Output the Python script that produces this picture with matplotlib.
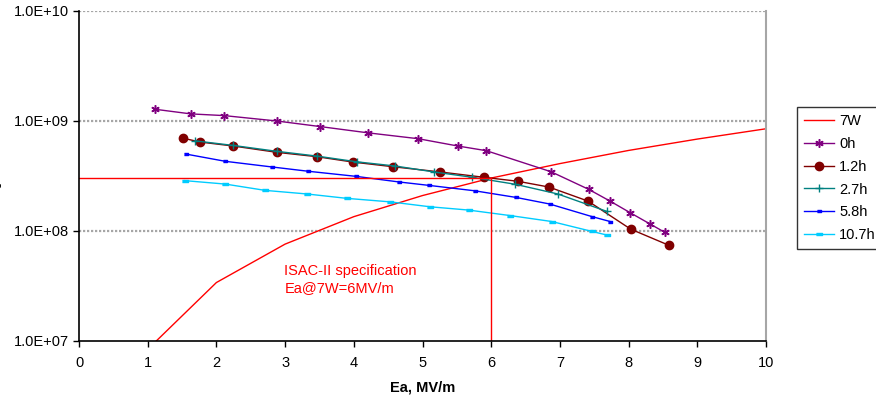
import math

import matplotlib
matplotlib.use("Agg")
import matplotlib.pyplot as plt
from matplotlib.ticker import FixedLocator, FuncFormatter, NullLocator

plt.rcParams["font.family"] = ["Liberation Sans", "DejaVu Sans"]

# 7W power curve
ea_7w = [1, 2, 3, 4, 5, 6, 7, 8, 9, 10]
q_7w = [8.4e6, 3.4e7, 7.6e7, 1.35e8, 2.1e8, 3.03e8, 4.1e8, 5.4e8, 6.85e8, 8.5e8]

# Q0 vs Ea after different conditioning times
ea_0h = [1.10, 1.63, 2.11, 2.88, 3.51, 4.21, 4.94, 5.51, 5.93, 6.87, 7.42, 7.73, 8.02, 8.31, 8.53]
q_0h = [1.28e9, 1.16e9, 1.12e9, 1.0e9, 8.9e8, 7.8e8, 6.9e8, 5.93e8, 5.37e8, 3.46e8,
        2.39e8, 1.87e8, 1.47e8, 1.16e8, 9.7e7]

ea_1p2h = [1.52, 1.76, 2.24, 2.88, 3.46, 3.99, 4.57, 5.26, 5.89, 6.39, 6.84, 7.41, 8.03, 8.59]
q_1p2h = [6.97e8, 6.44e8, 5.93e8, 5.19e8, 4.74e8, 4.23e8, 3.84e8, 3.44e8, 3.08e8, 2.83e8,
          2.51e8, 1.87e8, 1.04e8, 7.4e7]

ea_2p7h = [1.69, 2.24, 2.88, 3.46, 4.05, 4.60, 5.17, 5.72, 6.35, 6.97, 7.68]
q_2p7h = [6.6e8, 6.0e8, 5.3e8, 4.8e8, 4.25e8, 3.9e8, 3.44e8, 3.08e8, 2.66e8, 2.17e8, 1.51e8]

ea_5p8h = [1.56, 2.13, 2.81, 3.34, 4.03, 4.66, 5.09, 5.76, 6.36, 6.85, 7.47, 7.73]
q_5p8h = [5.0e8, 4.3e8, 3.82e8, 3.49e8, 3.14e8, 2.79e8, 2.6e8, 2.32e8, 2.02e8, 1.76e8,
          1.35e8, 1.22e8]

ea_10p7h = [1.54, 2.13, 2.71, 3.32, 3.90, 4.53, 5.11, 5.67, 6.28, 6.88, 7.47, 7.68]
q_10p7h = [2.87e8, 2.67e8, 2.34e8, 2.17e8, 1.98e8, 1.84e8, 1.66e8, 1.55e8, 1.38e8, 1.22e8,
           9.9e7, 9.2e7]

# spec point: Ea = 6 MV/m at 7 W
spec_ea = 6.0
spec_q = 3.03e8

dash_short = [(-1, -0.55), (1, -0.55), (1, 0.55), (-1, 0.55)]
dash_long = [(-1.6, -0.45), (1.6, -0.45), (1.6, 0.45), (-1.6, 0.45)]

FS = 10.5

fig = plt.figure(figsize=(8.76, 4.04), dpi=100)
ax = fig.add_axes([79 / 876, 1 - 341 / 404, 687 / 876, 330 / 404])

ax.plot(ea_7w, q_7w, color="#ff0000", lw=1.0, label="7W")
ax.plot(ea_0h, q_0h, color="#800080", lw=1.0, marker=(6, 2, 0), ms=6, mew=1.1, label="0h")
ax.plot(ea_1p2h, q_1p2h, color="#800000", lw=1.0, marker="o", ms=6, label="1.2h")
ax.plot(ea_2p7h, q_2p7h, color="#008080", lw=1.0, marker="+", ms=5.5, mew=1.0, label="2.7h")
ax.plot(ea_5p8h, q_5p8h, color="#0000ff", lw=1.0, marker=dash_short, ms=3.2, label="5.8h")
ax.plot(ea_10p7h, q_10p7h, color="#00ccff", lw=1.0, marker=dash_long, ms=4.2, label="10.7h")

# spec cross-hair
ax.plot([0, spec_ea], [spec_q, spec_q], color="#ff0000", lw=1.0)
ax.plot([spec_ea, spec_ea], [1e7, spec_q], color="#ff0000", lw=1.0)
ax.text(2.99, 5.0e7, "ISAC-II specification\nEa@7W=6MV/m", color="#ff0000",
        fontsize=FS, va="top", ha="left", linespacing=1.3)

ax.set_yscale("log")
ax.set_xlim(0, 10)
ax.set_ylim(1e7, 1e10)
ax.xaxis.set_major_locator(FixedLocator(range(0, 11)))
ax.yaxis.set_major_locator(FixedLocator([1e7, 1e8, 1e9, 1e10]))
ax.yaxis.set_minor_locator(NullLocator())
ax.yaxis.set_major_formatter(FuncFormatter(lambda v, p: "1.0E+%02d" % round(math.log10(v))))

for y in [1e8, 1e9, 1e10]:
    ax.axhline(y, color="#a6a6a6", lw=1.6, ls=(0, (1, 0.8)), zorder=0.5)

ax.tick_params(direction="out", length=4.5, width=1, labelsize=FS)
ax.tick_params(axis="x", pad=6)
ax.tick_params(axis="y", pad=3)
ax.spines["top"].set_visible(False)
ax.spines["right"].set_color("#a6a6a6")
ax.spines["right"].set_linewidth(1.5)
ax.spines["left"].set_linewidth(1.2)
ax.spines["bottom"].set_linewidth(1.2)

ax.set_xlabel("Ea, MV/m", fontsize=FS, fontweight="bold", labelpad=8)
ax.set_ylabel("Q0", fontsize=FS, fontweight="bold")
ax.yaxis.set_label_coords(-0.113, 0.479)

leg = ax.legend(loc="upper left", bbox_to_anchor=(797 / 876, 1 - 107 / 404),
                bbox_transform=fig.transFigure, fontsize=FS, frameon=True,
                fancybox=False, edgecolor="black", borderpad=0.5, labelspacing=0.6,
                handlelength=2.05, handletextpad=0.35, borderaxespad=0)
leg.get_frame().set_linewidth(1.0)

fig.savefig("out.png", dpi=100)
